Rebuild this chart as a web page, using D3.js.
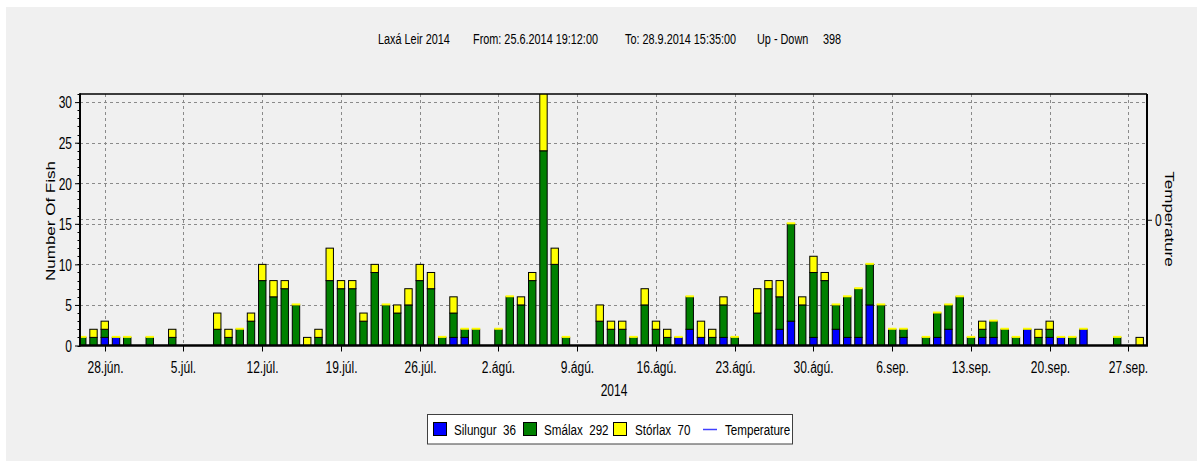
<!DOCTYPE html>
<html>
<head>
<meta charset="utf-8">
<script src="https://cdn.jsdelivr.net/npm/d3@7"></script>
<style>
body { margin: 0; background: #fff; }
text { font-family: 'Liberation Sans', Arial, sans-serif; fill: #000; }
</style>
</head>
<body>
<script>
// daily counts (only days with fish)
var days = ["2014-06-26","2014-06-27","2014-06-28","2014-06-29","2014-06-30","2014-07-02","2014-07-04",
  "2014-07-08","2014-07-09","2014-07-10","2014-07-11","2014-07-12","2014-07-13","2014-07-14","2014-07-15",
  "2014-07-16","2014-07-17","2014-07-18","2014-07-19","2014-07-20","2014-07-21","2014-07-22","2014-07-23",
  "2014-07-24","2014-07-25","2014-07-26","2014-07-27","2014-07-28","2014-07-29","2014-07-30","2014-07-31",
  "2014-08-02","2014-08-03","2014-08-04","2014-08-05","2014-08-06","2014-08-07","2014-08-08","2014-08-11",
  "2014-08-12","2014-08-13","2014-08-14","2014-08-15","2014-08-16","2014-08-17","2014-08-18","2014-08-19",
  "2014-08-20","2014-08-21","2014-08-22","2014-08-23","2014-08-25","2014-08-26","2014-08-27","2014-08-28",
  "2014-08-29","2014-08-30","2014-08-31","2014-09-01","2014-09-02","2014-09-03","2014-09-04","2014-09-05",
  "2014-09-06","2014-09-07","2014-09-09","2014-09-10","2014-09-11","2014-09-12","2014-09-13","2014-09-14",
  "2014-09-15","2014-09-16","2014-09-17","2014-09-18","2014-09-19","2014-09-20","2014-09-21","2014-09-22",
  "2014-09-23","2014-09-26","2014-09-28"];
var silungur = [0,0,1,1,0,0,0, 0,0,0,0,0,0,0,0, 0,0,0,0,0,0,0,0, 0,0,0,0,0,1,1,0,
  0,0,0,0,0,0,0,0, 0,0,0,0,0,0,1,2, 1,0,1,0,0,0,2,3, 0,1,0,2,1,1,5,0, 0,1,0,1,2,0,0,1,
  1,0,0,2,0,1,1,0, 2,0,0];
var smalax = [1,1,1,0,1,1,1, 2,1,2,3,8,6,7,5, 0,1,8,7,7,3,9,5, 4,5,8,7,1,3,1,2,
  2,6,5,8,24,10,1,3, 2,2,1,5,2,1,0,4, 0,1,4,1,4,7,4,12, 5,8,8,3,5,6,5,5, 2,1,1,3,3,6,1,1,
  2,2,1,0,1,1,0,1, 0,1,0];
var storlax = [0,1,1,0,0,0,1, 2,1,0,1,2,2,1,0, 1,1,4,1,1,1,1,0, 1,2,2,2,0,2,0,0,
  0,0,1,1,9,2,0,2, 1,1,0,2,1,1,0,0, 2,1,1,0,3,1,2,0, 1,2,1,0,0,0,0,0, 0,0,0,0,0,0,0,1,
  0,0,0,0,1,1,0,0, 0,0,1];

var seriesKeys = ["silungur", "smalax", "storlax"];
var seriesNames = ["Silungur", "Smálax", "Stórlax"];
var seriesColors = ["#0000ff", "#008000", "#ffff00"];
var monthAbbr = ["jan", "feb", "mar", "apr", "maí", "jún", "júl", "ágú", "sep", "okt", "nóv", "des"];
var titleParts = ["Laxá Leir 2014", "From: 25.6.2014 19:12:00", "To: 28.9.2014 15:35:00", "Up - Down", "398"];
var titleX = [378, 473, 625, 757, 823];
var yTicks = [0, 5, 10, 15, 20, 25, 30];

var SQ = 0.75; // horizontal squeeze of the text

var width = 1203, height = 463;
var pL = 80, pR = 1147, pT = 94, pB = 345.5;

var parse = d3.timeParse("%Y-%m-%d");
var table = days.map(function(d, i) {
  return { date: parse(d), silungur: silungur[i], smalax: smalax[i], storlax: storlax[i] };
});
var stacked = d3.stack().keys(seriesKeys)(table);

var svg = d3.select("body").append("svg")
  .attr("width", width).attr("height", height);

svg.append("rect").attr("x", 6).attr("y", 7).attr("width", 1191).attr("height", 454)
  .attr("fill", "#f0f0f0");

var x = d3.scaleTime()
  .domain([new Date(2014, 5, 25, 19, 12), new Date(2014, 8, 28, 15, 35)])
  .range([pL, pR]);
var y = d3.scaleLinear().domain([0, 31]).range([pB, pT]);
var yT = d3.scaleLinear().domain([-1, 1]).range([pB, pT]);

var weekTicks = d3.timeDay.range(new Date(2014, 5, 28), new Date(2014, 8, 28), 7);
function fmt(d) { return d.getDate() + "." + monthAbbr[d.getMonth()] + "."; }

function squeezed(g, px, py, size, txt, anchor) {
  return g.append("text")
    .attr("transform", "translate(" + px + "," + py + ") scale(" + SQ + ",1)")
    .attr("font-size", size)
    .attr("text-anchor", anchor || "start")
    .style("white-space", "pre")
    .text(txt);
}

// title
titleParts.forEach(function(t, i) { squeezed(svg, titleX[i], 44, 14.5, t); });

// grid
var grid = svg.append("g").attr("stroke", "#8a8a8a").attr("stroke-dasharray", "3,3").attr("stroke-width", 1);
yTicks.slice(1).forEach(function(v) {
  grid.append("line").attr("x1", pL).attr("x2", pR).attr("y1", Math.round(y(v)) + 0.5).attr("y2", Math.round(y(v)) + 0.5);
});
grid.append("line").attr("x1", pL).attr("x2", pR)
  .attr("y1", Math.round(yT(0)) - 0.5).attr("y2", Math.round(yT(0)) - 0.5);
weekTicks.forEach(function(d) {
  grid.append("line").attr("x1", Math.round(x(d)) + 0.5).attr("x2", Math.round(x(d)) + 0.5)
    .attr("y1", pT).attr("y2", pB);
});

// bars
svg.append("clipPath").attr("id", "plot").append("rect")
  .attr("x", pL).attr("y", pT).attr("width", pR - pL).attr("height", pB - pT);
var bw = 7.4;
var bars = svg.append("g").attr("clip-path", "url(#plot)");
stacked.forEach(function(layer, li) {
  bars.append("g").selectAll("rect")
    .data(layer.filter(function(d) { return d[1] > d[0]; }))
    .enter().append("rect")
    .attr("x", function(d) { return x(d.data.date) - bw / 2; })
    .attr("width", bw)
    .attr("y", function(d) { return y(d[1]); })
    .attr("height", function(d) { return y(d[0]) - y(d[1]); })
    .attr("fill", seriesColors[li])
    .attr("stroke", "#000")
    .attr("stroke-width", 1);
});
// empty Stórlax segment shows as a thin yellow cap
bars.append("g").selectAll("rect")
  .data(stacked[2].filter(function(d) { return d[1] === d[0] && d[1] > 0; }))
  .enter().append("rect")
  .attr("x", function(d) { return x(d.data.date) - bw / 2 - 0.5; })
  .attr("width", bw + 1)
  .attr("y", function(d) { return y(d[1]) - 1.5; })
  .attr("height", 2)
  .attr("fill", seriesColors[2]);

// left axis
var yAxis = svg.append("g").attr("transform", "translate(" + pL + ",0)")
  .call(d3.axisLeft(y).tickValues(yTicks).tickSize(5).tickSizeOuter(0));
yAxis.select(".domain").remove();
yAxis.attr("font-family", null);
yAxis.selectAll("text").attr("font-size", 16).attr("x", -8 / SQ).attr("dy", "0.36em")
  .attr("transform", "scale(" + SQ + ",1)");
svg.append("g").selectAll("line").data(d3.range(0, 32)).enter().append("line")
  .attr("x1", pL - 2.5).attr("x2", pL)
  .attr("y1", function(d) { return Math.round(y(d)) + 0.5; })
  .attr("y2", function(d) { return Math.round(y(d)) + 0.5; })
  .attr("stroke", "#000");

// bottom axis
var xAxis = svg.append("g").attr("transform", "translate(0," + pB + ")")
  .call(d3.axisBottom(x).tickValues(weekTicks).tickFormat(fmt).tickSize(6).tickSizeOuter(0));
xAxis.select(".domain").remove();
xAxis.attr("font-family", null);
xAxis.selectAll("text").attr("font-size", 16).attr("y", 28).attr("dy", 0)
  .attr("transform", "scale(" + SQ + ",1)");
xAxis.selectAll(".tick").attr("transform", function(d) { return "translate(" + (Math.round(x(d)) + 0.5) + ",0)"; });
squeezed(svg, (pL + pR) / 2 + 0.5, 396, 16, "2014", "middle");

// right axis (temperature)
var tAxis = svg.append("g").attr("transform", "translate(" + pR + ",0)")
  .call(d3.axisRight(yT).tickValues([0]).tickFormat(d3.format("d")).tickSize(5).tickSizeOuter(0));
tAxis.select(".domain").remove();
tAxis.attr("font-family", null);
tAxis.selectAll("text").attr("font-size", 16).attr("x", 8 / SQ).attr("dy", "0.36em")
  .attr("transform", "scale(" + SQ + ",1)");

// frame
var frame = svg.append("g").attr("stroke", "#000").attr("fill", "none");
frame.append("line").attr("x1", pL).attr("x2", pR).attr("y1", pT).attr("y2", pT).attr("stroke-width", 1.5);
frame.append("line").attr("x1", pR).attr("x2", pR).attr("y1", pT).attr("y2", pB).attr("stroke-width", 2);
frame.append("line").attr("x1", pL).attr("x2", pL).attr("y1", pT - 0.75).attr("y2", pB + 1).attr("stroke-width", 2);
frame.append("line").attr("x1", pL - 1).attr("x2", pR + 1).attr("y1", pB).attr("y2", pB).attr("stroke-width", 2.5);

// axis titles
svg.append("text")
  .attr("transform", "translate(55,221) scale(" + SQ + ",1) rotate(-90)")
  .attr("font-size", 17).attr("text-anchor", "middle").text("Number Of Fish");
svg.append("text")
  .attr("transform", "translate(1165,219) scale(" + SQ + ",1) rotate(90)")
  .attr("font-size", 17).attr("text-anchor", "middle").text("Temperature");

// legend
var lg = svg.append("g");
lg.append("rect").attr("x", 427.5).attr("y", 414.5).attr("width", 365).attr("height", 29.5)
  .attr("fill", "#fff").attr("stroke", "#404040");
var boxX = [433, 523, 613];
var labX = [454, 544, 635];
seriesNames.forEach(function(n, i) {
  var total = d3.sum(table, function(d) { return d[seriesKeys[i]]; });
  lg.append("rect").attr("x", boxX[i] + 0.5).attr("y", 422.5).attr("width", 13).attr("height", 13)
    .attr("fill", seriesColors[i]).attr("stroke", "#000");
  squeezed(lg, labX[i], 435, 15.5, n + "  " + total);
});
lg.append("line").attr("x1", 703).attr("x2", 717).attr("y1", 429.5).attr("y2", 429.5)
  .attr("stroke", "#4040ff").attr("stroke-width", 1.5);
squeezed(lg, 725, 435, 15.5, "Temperature");
</script>
</body>
</html>
